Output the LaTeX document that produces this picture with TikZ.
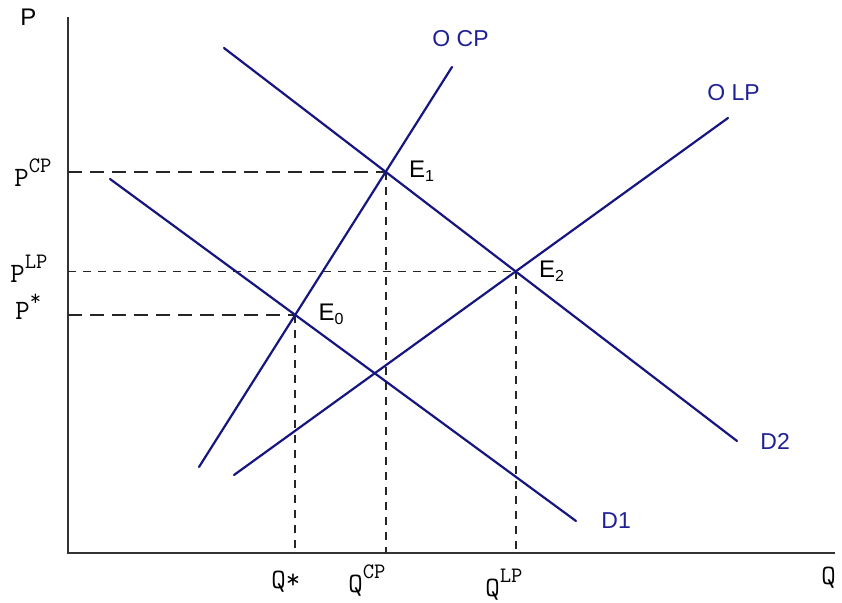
\documentclass[tikz,border=0pt]{standalone}
\usepackage{fontspec}
\setmainfont{Liberation Sans}
\definecolor{navy}{RGB}{22,22,128}
\definecolor{labelblue}{RGB}{32,32,150}
\newcommand\lift[1]{\raisebox{7pt}{\fontsize{11}{11}\selectfont #1}}
\begin{document}
\begin{tikzpicture}
[x=0.5pt,y=-0.5pt,every node/.style={inner sep=0pt,anchor=base west},
 axis/.style={draw=black!80, line width=1pt},
 curve/.style={draw=navy, line width=1.1pt, line cap=round},
 longdash/.style={draw=black!85, line width=0.9pt, dash pattern=on 7pt off 4pt},
 shortdash/.style={draw=black!85, line width=0.9pt, dash pattern=on 4pt off 3.5pt},
 curvelbl/.style={text=labelblue, font=\fontsize{11.5}{12}\selectfont},
 eqlbl/.style={font=\fontsize{12}{12}\selectfont, xshift=11.5pt, yshift=-3pt},
 axlbl/.style={font=\ttfamily\fontsize{14}{14}\selectfont}]
\useasboundingbox (0,0) rectangle (842,603);
% axes
\coordinate (o) at (68,553);
\coordinate (ytop) at (68,17);
\coordinate (xend) at (835,553);
\draw[axis] (ytop) -- (o) -- (xend);
\node[font=\fontsize{12}{12}\selectfont] (plbl) at (20,26) {P};
\node[axlbl] (qlbl) at (821,585) {Q};
% supply and demand curves
\coordinate (cpA) at (199,467);  \coordinate (cpB) at (452,67);
\coordinate (lpA) at (234,475);  \coordinate (lpB) at (728,118);
\coordinate (d1A) at (110,179);  \coordinate (d1B) at (576,521);
\coordinate (d2A) at (224,48);   \coordinate (d2B) at (737,441);
\coordinate (E0) at (intersection of cpA--cpB and d1A--d1B);
\coordinate (E1) at (intersection of cpA--cpB and d2A--d2B);
\coordinate (E2) at (intersection of lpA--lpB and d2A--d2B);
\draw[longdash] (E1 -| o) -- (E1);
\draw[longdash] (E0 -| o) -- (E0);
\draw[shortdash] (E2 -| o) -- (E2);
\foreach \e in {E0,E1,E2}
{
  \draw[shortdash] (\e) -- (\e |- o);
}
\draw[curve] (cpA) -- (cpB);
\draw[curve] (lpA) -- (lpB);
\draw[curve] (d1A) -- (d1B);
\draw[curve] (d2A) -- (d2B);
\node[curvelbl] (ocp) at (432,47) {O CP};
\node[curvelbl] (olp) at (707,101) {O LP};
\node[curvelbl] (d1lbl) at (601,529) {D1};
\node[curvelbl] (d2lbl) at (760,450) {D2};
\node[eqlbl] (e0lbl) at (E0) {E\textsubscript{0}};
\node[eqlbl] (e1lbl) at (E1) {E\textsubscript{1}};
\node[eqlbl] (e2lbl) at (E2) {E\textsubscript{2}};
\node[axlbl] (pcp) at (14,187) {P\lift{CP}};
\node[axlbl] (plp) at (10,283) {P\lift{LP}};
\node[axlbl] (pstar) at (15,320) {P\lift{*}};
\node[axlbl] (qstar) at (271,589) {Q*};
\node[axlbl] (qcp) at (348,593) {Q\lift{CP}};
\node[axlbl] (qlp) at (485,597) {Q\lift{LP}};
\end{tikzpicture}
\end{document}
